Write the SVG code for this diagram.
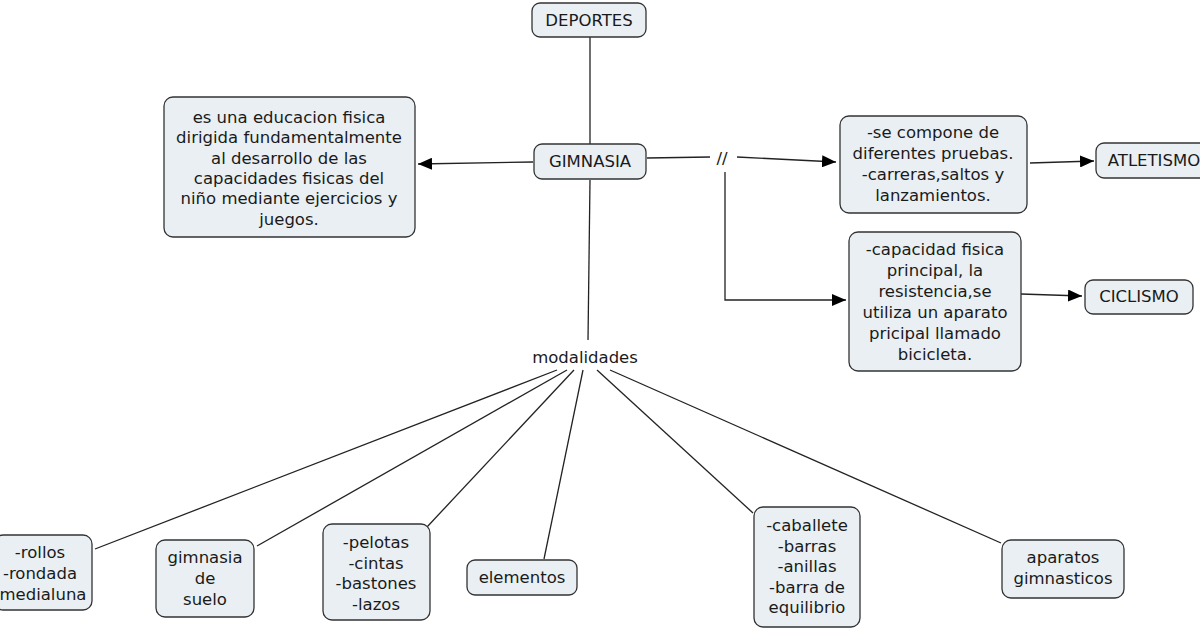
<svg xmlns="http://www.w3.org/2000/svg" width="1200" height="630" viewBox="0 0 1200 630">
<defs>
<style>
.box{fill:#e9eff3;stroke:#333;stroke-width:1.3}
.t{font-family:"DejaVu Sans",Verdana,sans-serif;font-size:16.5px;fill:#1a1a1a;text-anchor:middle}
.ln{fill:none;stroke:#222;stroke-width:1.3}
</style>
<marker id="ah" viewBox="0 0 14 12" refX="14" refY="6" markerWidth="14" markerHeight="12" markerUnits="userSpaceOnUse" orient="auto">
<path d="M0,0 L14,6 L0,12 Z" fill="#000"/>
</marker>
</defs>
<rect width="1200" height="630" fill="#fff"/>
<g id="connectors">
<line class="ln" x1="590" y1="37" x2="590" y2="144"/>
<line class="ln" x1="533" y1="162" x2="418" y2="164" marker-end="url(#ah)"/>
<line class="ln" x1="590" y1="180" x2="588" y2="340"/>
<line class="ln" x1="647" y1="158" x2="710" y2="157"/>
<line class="ln" x1="737" y1="157" x2="836" y2="162" marker-end="url(#ah)"/>
<polyline class="ln" points="725,172 725,300 846,300" marker-end="url(#ah)"/>
<line class="ln" x1="1030" y1="163" x2="1094" y2="161" marker-end="url(#ah)"/>
<line class="ln" x1="1021" y1="294" x2="1082" y2="296" marker-end="url(#ah)"/>
<line class="ln" x1="557" y1="370" x2="95" y2="549"/>
<line class="ln" x1="567" y1="370" x2="257" y2="546"/>
<line class="ln" x1="574" y1="370" x2="427" y2="527"/>
<line class="ln" x1="583" y1="370" x2="544" y2="559"/>
<line class="ln" x1="597" y1="370" x2="753" y2="513"/>
<line class="ln" x1="610" y1="370" x2="1001" y2="543"/>
<text class="t" x="722" y="164">//</text>
</g>
<g id="deportes"><rect class="box" x="532" y="3" width="114" height="34" rx="8"/><text class="t" x="589" y="26">DEPORTES</text></g>
<g id="gimnasia"><rect class="box" x="534" y="144" width="112" height="35" rx="8"/><text class="t" x="590" y="167">GIMNASIA</text></g>
<g id="definicion"><rect class="box" x="164" y="97" width="251" height="140" rx="9"/>
<text class="t" x="289" y="123">es una educacion fisica<tspan x="289" dy="20.3">dirigida fundamentalmente</tspan><tspan x="289" dy="20.3">al desarrollo de las</tspan><tspan x="289" dy="20.3">capacidades fisicas del</tspan><tspan x="289" dy="20.3">niño mediante ejercicios y</tspan><tspan x="289" dy="20.3">juegos.</tspan></text></g>
<g id="atletismo-desc"><rect class="box" x="840" y="116" width="187" height="97" rx="9"/>
<text class="t" x="933" y="138">-se compone de<tspan x="933" dy="21">diferentes pruebas.</tspan><tspan x="933" dy="21">-carreras,saltos y</tspan><tspan x="933" dy="21">lanzamientos.</tspan></text></g>
<g id="atletismo"><rect class="box" x="1096" y="143" width="120" height="35" rx="8"/><text class="t" x="1154" y="166">ATLETISMO</text></g>
<g id="ciclismo-desc"><rect class="box" x="849" y="232" width="172" height="139" rx="9"/>
<text class="t" x="935" y="255">-capacidad fisica<tspan x="935" dy="21">principal, la</tspan><tspan x="935" dy="21">resistencia,se</tspan><tspan x="935" dy="21">utiliza un aparato</tspan><tspan x="935" dy="21">pricipal llamado</tspan><tspan x="935" dy="21">bicicleta.</tspan></text></g>
<g id="ciclismo"><rect class="box" x="1085" y="280" width="108" height="34" rx="8"/><text class="t" x="1139" y="302">CICLISMO</text></g>
<g id="modalidades"><text class="t" x="585" y="363">modalidades</text></g>
<g id="rollos"><rect class="box" x="-6" y="535" width="98" height="75" rx="9"/>
<text class="t" x="40" y="558">-rollos<tspan x="40" dy="21">-rondada</tspan><tspan x="40" dy="21">-medialuna</tspan></text></g>
<g id="suelo"><rect class="box" x="156" y="540" width="98" height="77" rx="9"/>
<text class="t" x="205" y="563">gimnasia<tspan x="205" dy="21">de</tspan><tspan x="205" dy="21">suelo</tspan></text></g>
<g id="pelotas"><rect class="box" x="323" y="524" width="107" height="96" rx="9"/>
<text class="t" x="376" y="548">-pelotas<tspan x="376" dy="20.5">-cintas</tspan><tspan x="376" dy="20.5">-bastones</tspan><tspan x="376" dy="20.5">-lazos</tspan></text></g>
<g id="elementos"><rect class="box" x="467" y="560" width="110" height="35" rx="8"/><text class="t" x="522" y="583">elementos</text></g>
<g id="caballete"><rect class="box" x="754" y="507" width="106" height="120" rx="9"/>
<text class="t" x="807" y="531">-caballete<tspan x="807" dy="20.5">-barras</tspan><tspan x="807" dy="20.5">-anillas</tspan><tspan x="807" dy="20.5">-barra de</tspan><tspan x="807" dy="20.5">equilibrio</tspan></text></g>
<g id="aparatos"><rect class="box" x="1002" y="540" width="122" height="58" rx="9"/>
<text class="t" x="1063" y="563">aparatos<tspan x="1063" dy="21">gimnasticos</tspan></text></g>
</svg>
